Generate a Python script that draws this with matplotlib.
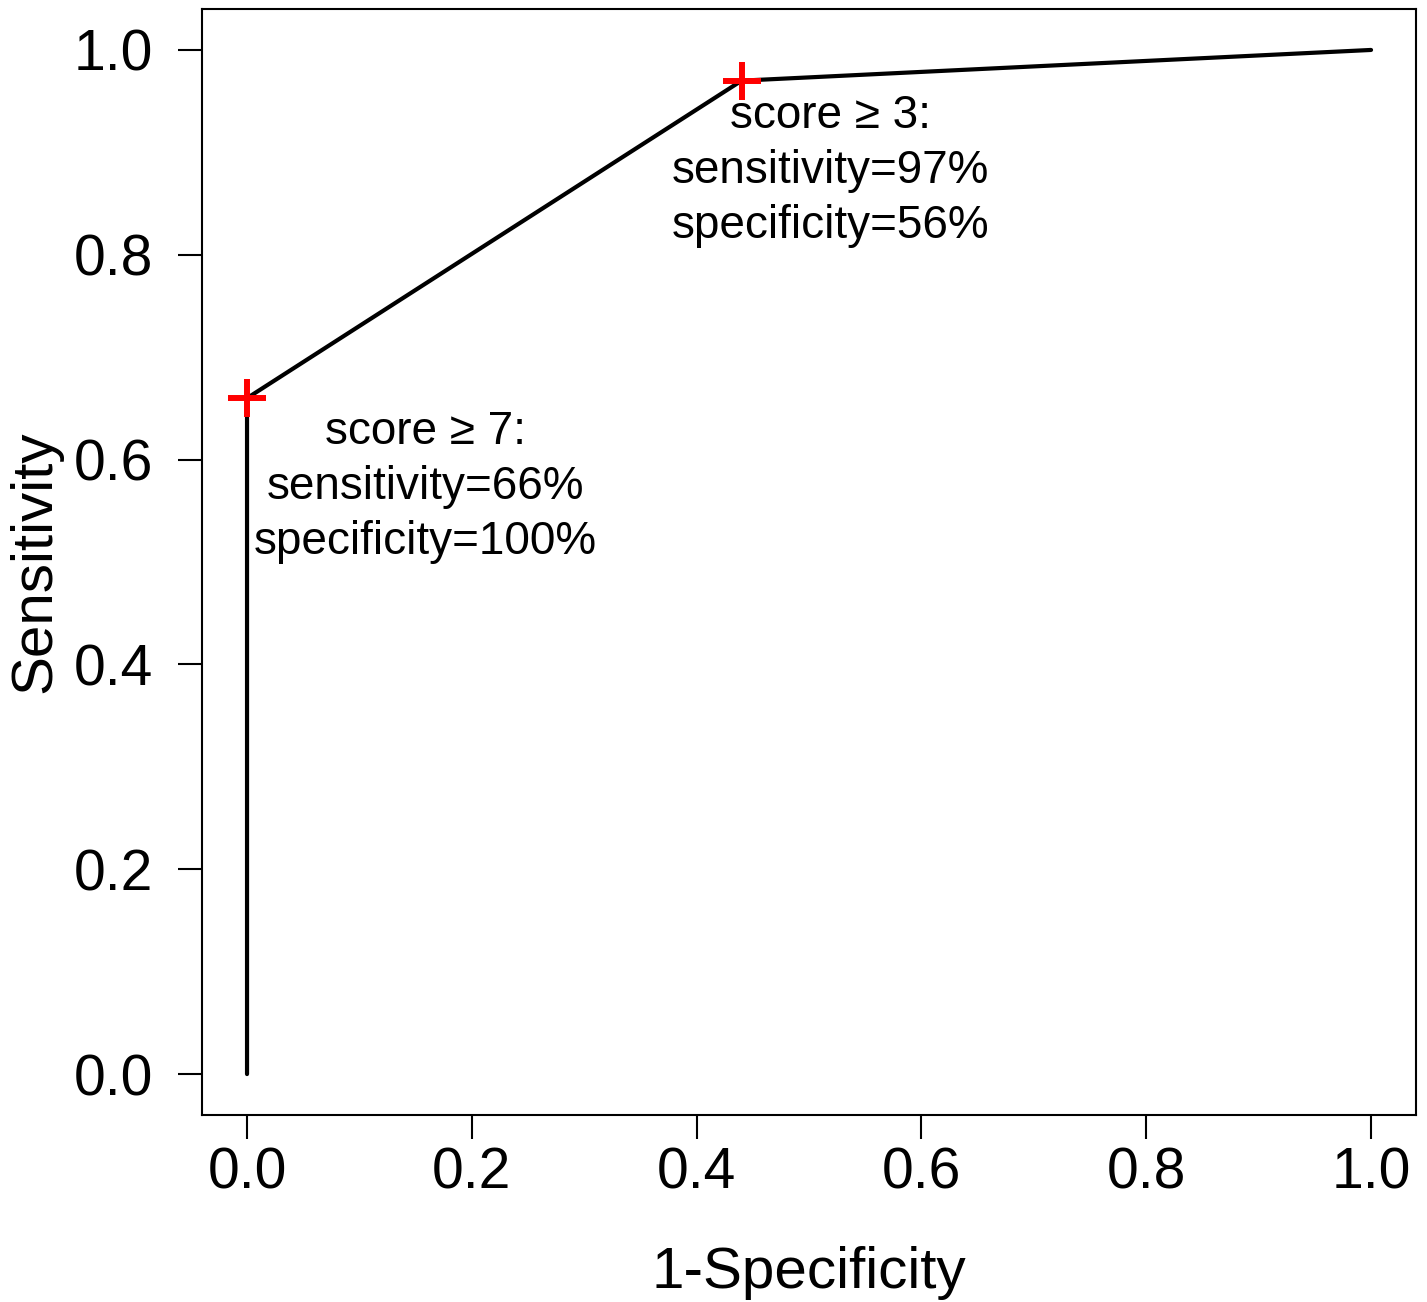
import numpy as np
import matplotlib
matplotlib.use('Agg')
import matplotlib.pyplot as plt

# ROC curve points (1-specificity, sensitivity)
fpr = [0.0, 0.0, 0.44, 1.0]
tpr = [0.0, 0.66, 0.97, 1.0]

# highlighted cut-offs
cut_fpr = [0.0, 0.44]
cut_tpr = [0.66, 0.97]
cut_text = ['score \u2265 7:\nsensitivity=66%\nspecificity=100%',
            'score \u2265 3:\nsensitivity=97%\nspecificity=56%']
text_x = [0.159, 0.519]
text_y = [0.573, 0.882]

ticks = [0.0, 0.2, 0.4, 0.6, 0.8, 1.0]
tick_labels = ['0.0', '0.2', '0.4', '0.6', '0.8', '1.0']

plt.rcParams['font.family'] = ['Liberation Sans', 'DejaVu Sans']

fig = plt.figure(figsize=(14.27, 13.02), dpi=100)
ax = fig.add_axes([0.1416, 0.1436, 0.8507, 0.8495])

ax.plot(fpr, tpr, color='black', lw=3, solid_capstyle='round')
ax.plot(cut_fpr, cut_tpr, linestyle='none', marker='+', color='red',
        markersize=27, markeredgewidth=4.3)

for tx, ty, s in zip(text_x, text_y, cut_text):
    ax.text(tx, ty, s, ha='center', va='center', fontsize=33, linespacing=1.33)

ax.set_xlim(-0.04, 1.04)
ax.set_ylim(-0.04, 1.04)
ax.set_xticks(ticks)
ax.set_xticklabels(tick_labels)
ax.set_yticks(ticks)
ax.set_yticklabels(tick_labels)
ax.tick_params(axis='both', length=17, width=1.5, labelsize=41)
ax.tick_params(axis='x', pad=6)
ax.tick_params(axis='y', pad=18)
for sp in ax.spines.values():
    sp.set_linewidth(1.5)

ax.set_xlabel('1-Specificity', fontsize=42)
ax.set_ylabel('Sensitivity', fontsize=42)
ax.xaxis.set_label_coords(0.5, -0.118)
ax.yaxis.set_label_coords(-0.115, 0.5)

fig.savefig('out.png', dpi=100)
